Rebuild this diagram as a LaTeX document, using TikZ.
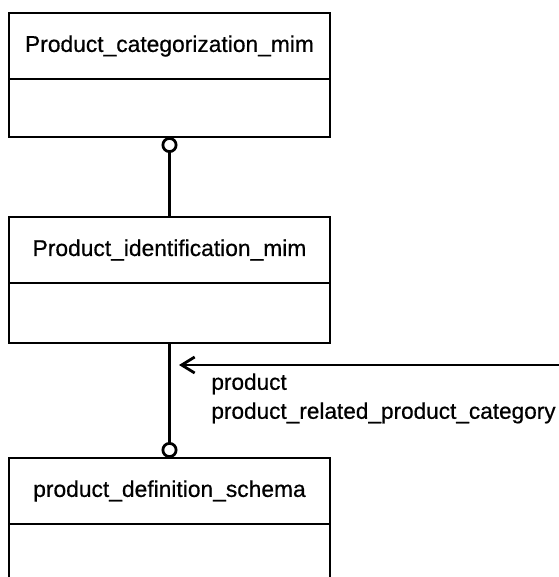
\documentclass[tikz,border=0pt]{standalone}
\usepackage{fontspec}
\setmainfont[FakeBold=0.6,AutoFakeBold=0.6]{Liberation Sans}
\usetikzlibrary{arrows.meta}
\begin{document}
\begin{tikzpicture}[x=1pt,y=-1pt,
  line width=2.8pt,
  hdr/.style={rectangle, minimum width=321pt, minimum height=66pt, inner sep=0pt, outer sep=0pt,
    font=\fontsize{22.8}{26}\selectfont\bfseries, anchor=north},
  bdy/.style={rectangle, minimum width=321pt, inner sep=0pt, outer sep=0pt, anchor=north},
  frame/.style={draw, line width=2.8pt},
  lbl/.style={font=\fontsize{22.6}{29}\selectfont\bfseries, align=left, anchor=north west, inner sep=0pt},
  assoc/.style={-{Circle[open,length=16pt,width=16pt,fill=white]}},
  ref/.style={-{Straight Barb[length=13pt,width=16pt]}}
]
\useasboundingbox (0,0) rectangle (558,577);
% top class
\node[hdr] (cath) at (169.5,13) {Product\_categorization\_mim};
\node[bdy, minimum height=58pt] (catb) at (cath.south) {};
% middle class
\node[hdr] (idh) at (169.5,217) {Product\_identification\_mim};
\node[bdy, minimum height=60pt] (idb) at (idh.south) {};
% bottom class
\node[hdr] (pdh) at (169.5,458) {product\_definition\_schema};
\node[bdy, minimum height=80pt] (pdb) at (pdh.south) {};
% frames
\draw[frame] (cath.north west) rectangle (catb.south east);
\draw[frame] (cath.south west) -- (cath.south east);
\draw[frame] (idh.north west) rectangle (idb.south east);
\draw[frame] (idh.south west) -- (idh.south east);
\draw[frame] (pdb.south west) -- (pdh.north west) -- (pdh.north east) -- (pdb.south east);
\draw[frame] (pdh.south west) -- (pdh.south east);
% connectors
\draw[assoc] (idh.north) -- (catb.south);
\draw[assoc] (idb.south) -- (pdh.north);
% reference arrow
\coordinate (src) at (560,365);
\coordinate (tip) at (179,365);
\draw[ref] (src) -- (tip);
\node[lbl] (refl) at (210,372) {product\\product\_related\_product\_category};
\end{tikzpicture}
\end{document}
